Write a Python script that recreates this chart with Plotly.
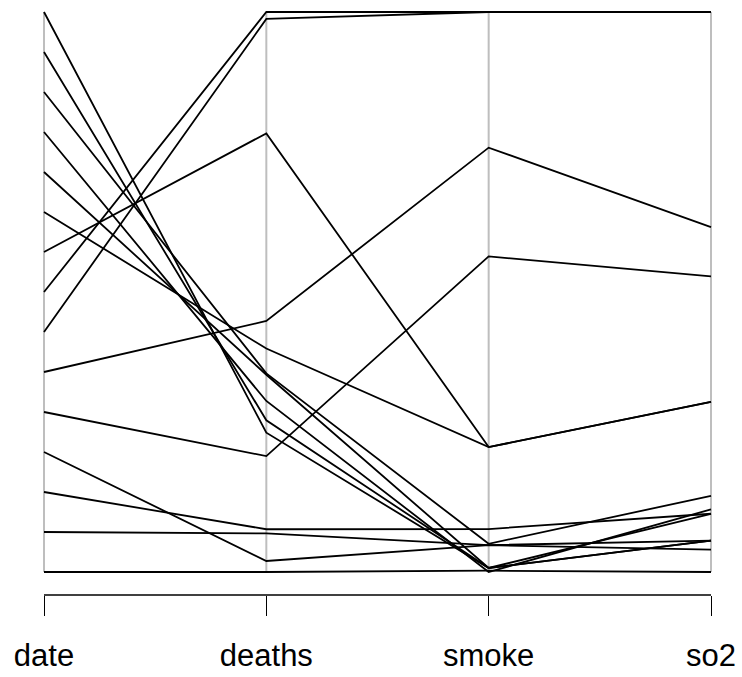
import plotly.graph_objects as go

variables = ["date", "deaths", "smoke", "so2"]
date = [1, 2, 3, 4, 5, 6, 7, 8, 9, 10, 11, 12, 13, 14, 15]
deaths = [112, 140, 143, 120, 196, 294, 513, 518, 430, 274, 255, 236, 256, 222, 213]
smoke = [0.30, 0.49, 0.61, 0.49, 2.64, 3.45, 4.46, 4.46, 1.22, 1.22, 0.32, 0.29, 0.50, 0.32, 0.32]
so2 = [0.09, 0.16, 0.22, 0.14, 0.75, 0.86, 1.34, 1.34, 0.47, 0.47, 0.22, 0.23, 0.26, 0.16, 0.16]

cols = [date, deaths, smoke, so2]

def scale(v):
    lo, hi = min(v), max(v)
    return [(x - lo) / (hi - lo) for x in v]

scaled = [scale(c) for c in cols]
xpos = list(range(1, len(variables) + 1))

fig = go.Figure()

# gray vertical axes
for xp in xpos:
    fig.add_trace(go.Scatter(x=[xp, xp], y=[0, 1], mode="lines",
                             line=dict(color="#BEBEBE", width=2),
                             hoverinfo="skip", showlegend=False))

for i in range(len(date)):
    fig.add_trace(go.Scatter(x=xpos, y=[s[i] for s in scaled], mode="lines",
                             line=dict(color="black", width=1.8),
                             showlegend=False))

# bottom axis line spanning first to last variable
fig.add_shape(type="line", xref="x", yref="paper", x0=1, x1=4, y0=0, y1=0,
              line=dict(color="black", width=1.3))

W, H = 742, 677
bottom_px = 595
# map: y=1 -> px 12, y=0 -> px 572
unit_y = 560.0
y_top = 1 + 12 / unit_y
y_bot = -(bottom_px - 572) / unit_y
unit_x = (711 - 44) / 3.0
x_left = 1 - 44 / unit_x
x_right = 1 + (W - 44) / unit_x

fig.update_layout(
    width=W, height=H,
    margin=dict(l=0, r=0, t=0, b=H - bottom_px),
    paper_bgcolor="white", plot_bgcolor="white",
    font=dict(family="Liberation Sans, Arial, sans-serif", color="black"),
    xaxis=dict(range=[x_left, x_right], tickvals=xpos, ticktext=variables,
               showgrid=False, zeroline=False, showline=False,
               ticks="outside", ticklen=20, tickwidth=1.3, tickcolor="black",
               tickfont=dict(size=31, color="black"), ticklabelstandoff=13),
    yaxis=dict(range=[y_bot, y_top], visible=False),
)

fig.write_html("out.html")
